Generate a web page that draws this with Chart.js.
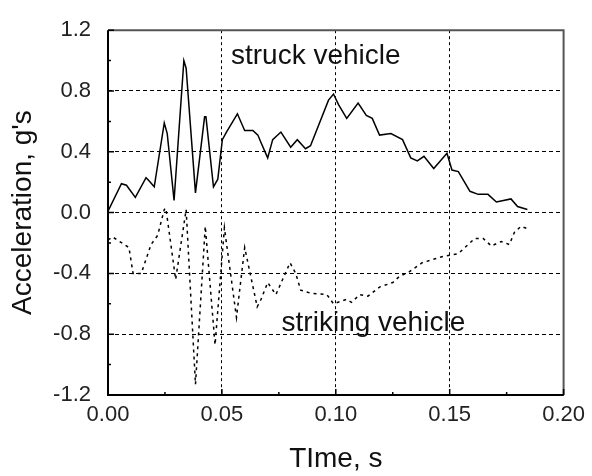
<!DOCTYPE html>
<html>
<head>
<meta charset="utf-8">
<script src="https://cdn.jsdelivr.net/npm/chart.js@4.4.1/dist/chart.umd.min.js"></script>
<style>
  body { margin: 0; background: #fff; }
  #wrap { width: 592px; height: 476px; }
</style>
</head>
<body>
<div id="wrap"><canvas id="crash-accel"></canvas></div>
<script>
// Struck vehicle (solid trace)
var struckTime = [0, 0.0059, 0.0081, 0.012, 0.0167, 0.018, 0.0203, 0.0247, 0.026, 0.029,
    0.0333, 0.0343, 0.0384, 0.0424, 0.043, 0.0463, 0.0482, 0.0502, 0.052, 0.0568,
    0.060, 0.0636, 0.0658, 0.0672, 0.0701, 0.0723, 0.0759, 0.0802, 0.0831, 0.0867,
    0.0889, 0.0968, 0.099, 0.1012, 0.1048, 0.1098, 0.1134, 0.116, 0.1192, 0.1242,
    0.1293, 0.1329, 0.1358, 0.1387, 0.143, 0.1488, 0.151, 0.1538, 0.1589, 0.1625,
    0.1668, 0.1705, 0.1769, 0.1798, 0.1841];
var struckAccel = [0.01, 0.19, 0.18, 0.10, 0.23, 0.21, 0.17, 0.59, 0.52, 0.08,
    1.00, 0.95, 0.13, 0.63, 0.63, 0.17, 0.22, 0.48, 0.53, 0.65,
    0.54, 0.54, 0.51, 0.46, 0.36, 0.48, 0.53, 0.43, 0.48, 0.42,
    0.44, 0.74, 0.78, 0.71, 0.62, 0.72, 0.64, 0.62, 0.51, 0.52,
    0.48, 0.36, 0.34, 0.37, 0.29, 0.39, 0.28, 0.27, 0.14, 0.12,
    0.12, 0.07, 0.09, 0.04, 0.02];

// Striking vehicle (dotted trace)
var strikingTime = [0, 0.002, 0.0092, 0.011, 0.0146, 0.0189, 0.0218, 0.0247, 0.0254, 0.0297,
    0.0343, 0.0384, 0.0427, 0.047, 0.0511, 0.0564, 0.060, 0.0655, 0.0672, 0.0701,
    0.0737, 0.0799, 0.0824, 0.0846, 0.0889, 0.0961, 0.099, 0.1048, 0.1069, 0.1105,
    0.1141, 0.1192, 0.125, 0.1279, 0.1322, 0.1379, 0.1466, 0.1538, 0.161, 0.1647,
    0.1683, 0.1726, 0.1762, 0.1784, 0.1813, 0.1849];
var strikingAccel = [-0.18, -0.16, -0.23, -0.40, -0.40, -0.21, -0.15, 0.02, 0.03, -0.44,
    0.02, -1.13, -0.09, -0.87, -0.10, -0.69, -0.23, -0.62, -0.57, -0.46,
    -0.54, -0.33, -0.40, -0.51, -0.53, -0.54, -0.60, -0.57, -0.59, -0.54,
    -0.55, -0.49, -0.46, -0.42, -0.39, -0.33, -0.29, -0.27, -0.17, -0.17,
    -0.22, -0.19, -0.21, -0.13, -0.09, -0.11];

// Axis ticks
var timeTicks = [0, 0.05, 0.10, 0.15, 0.20];
var timeMinor = [0.025, 0.075, 0.125, 0.175];
var accelTicks = [-1.2, -0.8, -0.4, 0.0, 0.4, 0.8, 1.2];
var accelMinor = [-1.0, -0.6, -0.2, 0.2, 0.6, 1.0];

function toPoints(xs, ys) {
    return xs.map(function (x, i) { return { x: x, y: ys[i] }; });
}

var FONT = '"Liberation Sans", Arial, sans-serif';

// Frame, inward ticks and curve labels
var frameAndTicks = {
    id: 'frameAndTicks',
    afterDatasetsDraw: function (chart) {
        var ctx = chart.ctx;
        var a = chart.chartArea;
        var xs = chart.scales.x, ys = chart.scales.y;

        ctx.save();
        ctx.lineCap = 'butt';

        // top / right border
        ctx.strokeStyle = '#555';
        ctx.lineWidth = 2;
        ctx.beginPath();
        ctx.moveTo(a.left, a.top);
        ctx.lineTo(a.right, a.top);
        ctx.lineTo(a.right, a.bottom);
        ctx.stroke();

        // left / bottom axis
        ctx.strokeStyle = '#000';
        ctx.beginPath();
        ctx.moveTo(a.left, a.top);
        ctx.lineTo(a.left, a.bottom);
        ctx.lineTo(a.right, a.bottom);
        ctx.stroke();

        ctx.lineWidth = 1.5;
        ctx.beginPath();
        timeTicks.forEach(function (v) {
            var px = xs.getPixelForValue(v);
            ctx.moveTo(px, a.bottom);
            ctx.lineTo(px, a.bottom - 6);
        });
        timeMinor.forEach(function (v) {
            var px = xs.getPixelForValue(v);
            ctx.moveTo(px, a.bottom);
            ctx.lineTo(px, a.bottom - 3);
        });
        accelTicks.forEach(function (v) {
            var py = ys.getPixelForValue(v);
            ctx.moveTo(a.left, py);
            ctx.lineTo(a.left + 6, py);
        });
        accelMinor.forEach(function (v) {
            var py = ys.getPixelForValue(v);
            ctx.moveTo(a.left, py);
            ctx.lineTo(a.left + 3, py);
        });
        ctx.stroke();

        ctx.fillStyle = '#111';
        ctx.font = '28px ' + FONT;
        ctx.textBaseline = 'alphabetic';
        ctx.textAlign = 'left';
        ctx.fillText('struck vehicle', xs.getPixelForValue(0.054), ys.getPixelForValue(0.976));
        ctx.fillText('striking vehicle', xs.getPixelForValue(0.0762), ys.getPixelForValue(-0.777));
        ctx.restore();
    }
};

new Chart(document.getElementById('crash-accel'), {
    type: 'line',
    data: {
        datasets: [{
            label: 'struck vehicle',
            data: toPoints(struckTime, struckAccel),
            borderColor: '#000',
            borderWidth: 1.5,
            pointRadius: 0,
            tension: 0,
            fill: false
        }, {
            label: 'striking vehicle',
            data: toPoints(strikingTime, strikingAccel),
            borderColor: '#000',
            borderWidth: 1.5,
            borderDash: [3, 4],
            pointRadius: 0,
            tension: 0,
            fill: false
        }]
    },
    options: {
        responsive: true,
        maintainAspectRatio: false,
        animation: false,
        layout: { padding: { top: 21, right: 22, left: 0, bottom: 0 } },
        plugins: {
            legend: { display: false },
            tooltip: { enabled: false }
        },
        scales: {
            x: {
                type: 'linear',
                min: 0,
                max: 0.2,
                afterFit: function (s) { s.height = 81; },
                afterBuildTicks: function (s) {
                    s.ticks = timeTicks.map(function (v) { return { value: v }; });
                },
                border: { display: false, dash: [3, 3] },
                grid: {
                    drawTicks: false,
                    color: '#000',
                    lineWidth: 1
                },
                ticks: {
                    padding: 7,
                    color: '#222',
                    font: { family: FONT, size: 22 },
                    maxRotation: 0,
                    callback: function (v) { return v.toFixed(2); }
                },
                title: {
                    display: true,
                    text: 'TIme, s',
                    color: '#111',
                    font: { family: FONT, size: 28 },
                    padding: { top: 0, bottom: 0 }
                }
            },
            y: {
                type: 'linear',
                min: -1.2,
                max: 1.2,
                afterFit: function (s) { s.width = 108; },
                afterBuildTicks: function (s) {
                    s.ticks = accelTicks.map(function (v) { return { value: v }; });
                },
                border: { display: false, dash: [4, 3] },
                grid: {
                    drawTicks: false,
                    color: '#000',
                    lineWidth: 1
                },
                ticks: {
                    padding: 17,
                    color: '#222',
                    font: { family: FONT, size: 22 },
                    callback: function (v) { return v.toFixed(1); }
                },
                title: {
                    display: true,
                    text: "Acceleration, g's",
                    color: '#111',
                    font: { family: FONT, size: 28 },
                    padding: { top: 6, bottom: 0 }
                }
            }
        }
    },
    plugins: [frameAndTicks]
});
</script>
</body>
</html>
